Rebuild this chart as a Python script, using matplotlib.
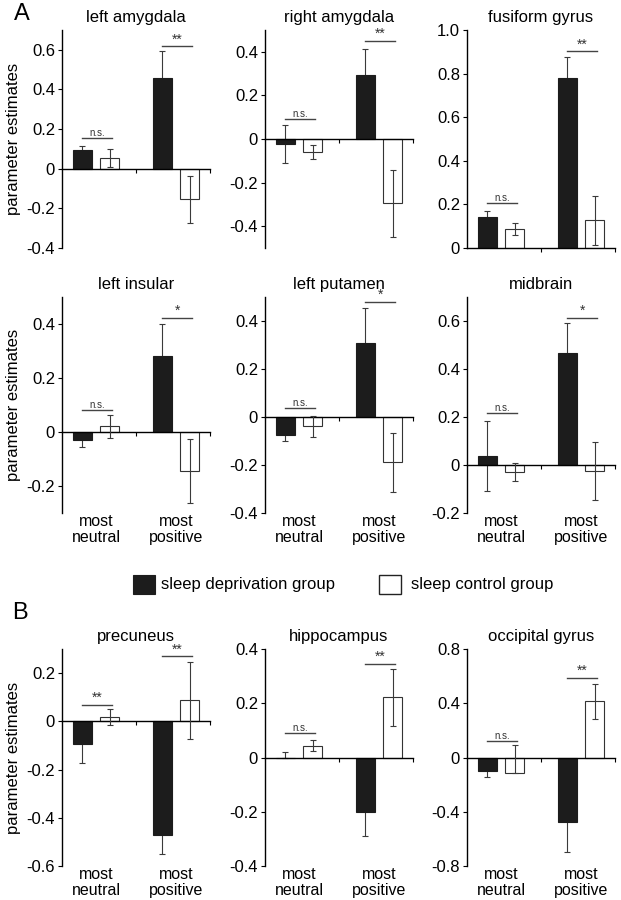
import matplotlib
matplotlib.use("Agg")
import matplotlib.pyplot as plt
from matplotlib.patches import Rectangle

plt.rcParams['font.family'] = ['Liberation Sans', 'DejaVu Sans']

# ---------------- data ----------------
regions = ["left amygdala", "right amygdala", "fusiform gyrus",
           "left insular", "left putamen", "midbrain",
           "precuneus", "hippocampus", "occipital gyrus"]
conditions = ["most\nneutral", "most\npositive"]
legend_labels = ["sleep deprivation group", "sleep control group"]

# sleep deprivation group (neutral, positive)
sd_mean = [[0.092, 0.460], [-0.023, 0.294], [0.144, 0.781],
           [-0.030, 0.282], [-0.075, 0.308], [0.038, 0.465],
           [-0.094, -0.472], [0.0, -0.200], [-0.099, -0.475]]
sd_err_lo = [[0.025, 0.133], [0.089, 0.121], [0.028, 0.094],
             [0.026, 0.118], [0.027, 0.147], [0.145, 0.126],
             [0.080, 0.080], [0.0, 0.090], [0.045, 0.220]]
sd_err_hi = [[0.025, 0.133], [0.089, 0.121], [0.028, 0.094],
             [0.026, 0.118], [0.027, 0.147], [0.145, 0.126],
             [0.080, 0.080], [0.022, 0.090], [0.045, 0.220]]
# sleep control group (neutral, positive)
sc_mean = [[0.055, -0.155], [-0.058, -0.295], [0.087, 0.128],
           [0.021, -0.144], [-0.039, -0.188], [-0.029, -0.025],
           [0.018, 0.087], [0.044, 0.222], [-0.116, 0.413]]
sc_err_lo = [[0.045, 0.120], [0.032, 0.155], [0.027, 0.112],
             [0.043, 0.118], [0.044, 0.123], [0.036, 0.122],
             [0.034, 0.160], [0.020, 0.106], [0.0, 0.126]]
sc_err_hi = [[0.045, 0.120], [0.032, 0.155], [0.027, 0.112],
             [0.043, 0.118], [0.044, 0.123], [0.036, 0.122],
             [0.034, 0.160], [0.020, 0.106], [0.208, 0.126]]

# significance labels and bracket heights (neutral, positive)
sig_text = [["n.s.", "**"], ["n.s.", "**"], ["n.s.", "**"],
            ["n.s.", "*"], ["n.s.", "*"], ["n.s.", "*"],
            ["**", "**"], ["n.s.", "**"], ["n.s.", "**"]]
sig_y = [[0.155, 0.617], [0.092, 0.449], [0.206, 0.902],
         [0.083, 0.424], [0.038, 0.480], [0.218, 0.612],
         [0.068, 0.269], [0.090, 0.345], [0.119, 0.589]]

ylims = [(-0.4, 0.7), (-0.5, 0.5), (0.0, 1.0),
         (-0.3, 0.5), (-0.4, 0.5), (-0.2, 0.7),
         (-0.6, 0.3), (-0.4, 0.4), (-0.8, 0.8)]
yticks = [[-0.4, -0.2, 0, 0.2, 0.4, 0.6],
          [-0.4, -0.2, 0, 0.2, 0.4],
          [0, 0.2, 0.4, 0.6, 0.8, 1.0],
          [-0.2, 0, 0.2, 0.4],
          [-0.4, -0.2, 0, 0.2, 0.4],
          [-0.2, 0, 0.2, 0.4, 0.6],
          [-0.6, -0.4, -0.2, 0, 0.2],
          [-0.4, -0.2, 0, 0.2, 0.4],
          [-0.8, -0.4, 0, 0.4, 0.8]]

# ---------------- layout ----------------
W, H = 621, 900
fig = plt.figure(figsize=(W / 100, H / 100), dpi=100)

col_x = [62, 265, 467]
ax_w = 148
rows = [(30, 248), (297, 513), (649, 866)]

XL = (-0.425, 1.425)
bw = 0.24
off = 0.17
FS = 12

def fmt(v):
    if abs(v) < 1e-9:
        return "0"
    return f"{v:.1f}"

for i, name in enumerate(regions):
    r, c = divmod(i, 3)
    top, bot = rows[r]
    ax = fig.add_axes([col_x[c] / W, 1 - bot / H, ax_w / W, (bot - top) / H])
    xs = [0, 1]
    ax.errorbar([x - off for x in xs], sd_mean[i], yerr=[sd_err_lo[i], sd_err_hi[i]],
                fmt="none", ecolor="#3a3a3a", elinewidth=0.8, capsize=2,
                capthick=0.8, zorder=1)
    ax.bar([x - off for x in xs], sd_mean[i], width=bw, color="#1c1c1c",
           edgecolor="#1c1c1c", linewidth=0.8, zorder=2)
    ax.bar([x + off for x in xs], sc_mean[i], width=bw, color="white",
           edgecolor="#333333", linewidth=0.8, zorder=2)
    ax.errorbar([x + off for x in xs], sc_mean[i], yerr=[sc_err_lo[i], sc_err_hi[i]],
                fmt="none", ecolor="#3a3a3a", elinewidth=0.8, capsize=2,
                capthick=0.8, zorder=3)

    ax.set_xlim(*XL)
    ax.set_ylim(*ylims[i])
    ax.set_yticks(yticks[i])
    ax.set_yticklabels([fmt(v) for v in yticks[i]], fontsize=FS)
    ax.tick_params(axis="y", direction="out", length=3, width=0.8, pad=2)
    ax.spines["top"].set_visible(False)
    ax.spines["right"].set_visible(False)
    ax.spines["left"].set_linewidth(1.0)
    ax.spines["bottom"].set_position(("data", 0))
    ax.spines["bottom"].set_linewidth(1.0)
    ax.spines["bottom"].set_zorder(2.5)
    ax.set_xticks([0.5, XL[1]])
    ax.set_xticklabels([])
    ax.tick_params(axis="x", direction="out", length=3, width=0.8)
    ax.set_title(name, fontsize=FS, pad=6)

    # significance brackets
    for g in range(2):
        y = sig_y[i][g]
        ax.plot([g - off, g + off + 0.03], [y, y], color="#444444", lw=1.0,
                zorder=4, clip_on=False)
        small = sig_text[i][g] == "n.s."
        ax.text(g + 0.015, y, sig_text[i][g], ha="center", va="bottom",
                fontsize=7 if small else 10, color="#333333")

    if r > 0:
        for g, lab in enumerate(conditions):
            ax.text(g, -0.005, lab, transform=ax.get_xaxis_transform(),
                    ha="center", va="top", fontsize=11.5, linespacing=1.05)
    if c == 0:
        ax.set_ylabel("parameter estimates", fontsize=FS, labelpad=4)

# panel letters
fig.text(14 / W, 1 - 14 / H, "A", fontsize=17, va="center", ha="left")
fig.text(12 / W, 1 - 613 / H, "B", fontsize=17, va="center", ha="left")

# legend
ly = 585
fig.patches.append(Rectangle((133 / W, 1 - 594 / H), 22 / W, 19 / H,
                             transform=fig.transFigure, facecolor="#1c1c1c",
                             edgecolor="#1c1c1c", lw=0.8))
fig.text(161 / W, 1 - ly / H, legend_labels[0], fontsize=FS, va="center", ha="left")
fig.patches.append(Rectangle((379 / W, 1 - 594 / H), 22 / W, 19 / H,
                             transform=fig.transFigure, facecolor="white",
                             edgecolor="#222222", lw=1.0))
fig.text(411 / W, 1 - ly / H, legend_labels[1], fontsize=FS, va="center", ha="left")

fig.savefig("out.png", dpi=100)
